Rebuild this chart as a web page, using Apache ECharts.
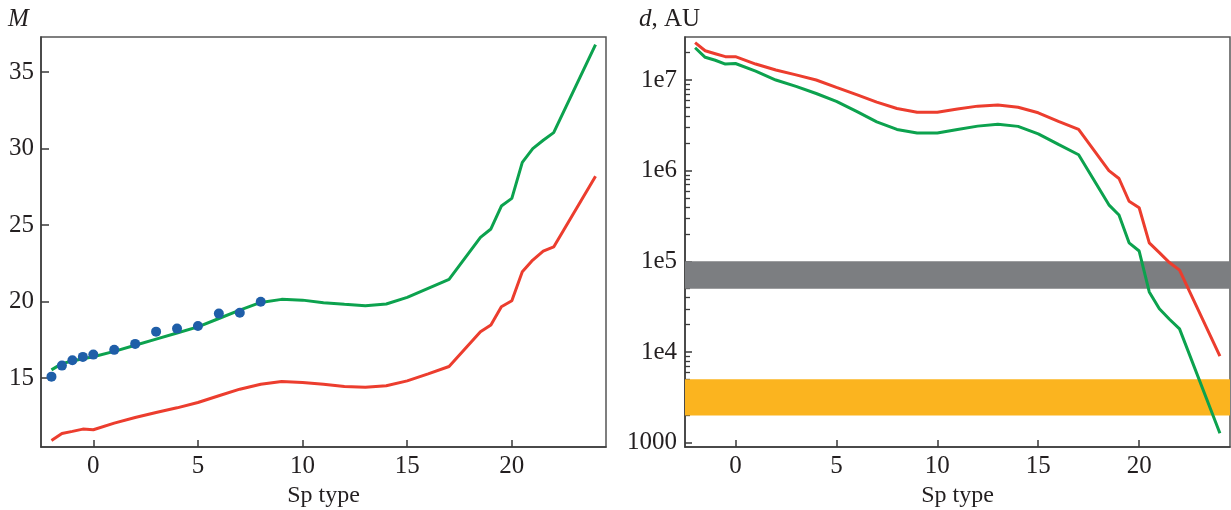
<!DOCTYPE html>
<html>
<head>
<meta charset="utf-8">
<script src="https://cdn.jsdelivr.net/npm/echarts@6/dist/echarts.min.js"></script>
<style>
html, body { margin: 0; padding: 0; background: #fff; }
#main { width: 1231px; height: 510px; }
</style>
</head>
<body>
<div id="main"></div>
<script>
// spectral subtype on the x axis (shared by both panels)
const spType = [-2, -1.5, -1, -0.5, 0, 1, 2, 3, 4, 5, 6, 7, 8, 9, 10, 11, 12, 13, 14, 15, 16, 17,
  18.5, 19, 19.5, 20, 20.5, 21, 21.5, 22, 24];

// left panel: M
const mGreen = [15.54, 15.95, 16.12, 16.27, 16.4, 16.75, 17.15, 17.55, 17.95, 18.35, 18.9, 19.45, 19.95,
  20.15, 20.1, 19.93, 19.83, 19.74, 19.85, 20.28, 20.87, 21.46,
  24.2, 24.75, 26.25, 26.75, 29.1, 30.0, 30.55, 31.05, 36.8];
const mRed = [10.93, 11.38, 11.52, 11.67, 11.63, 12.06, 12.43, 12.76, 13.06, 13.41, 13.85, 14.28, 14.6,
  14.78, 14.72, 14.6, 14.45, 14.41, 14.5, 14.82, 15.28, 15.76,
  18.04, 18.48, 19.67, 20.06, 21.95, 22.72, 23.3, 23.58, 28.2];
const dotSp = [-2, -1.5, -1, -0.5, 0, 1, 2, 3, 4, 5, 6, 7, 8];
const dotM = [15.1, 15.82, 16.17, 16.39, 16.54, 16.85, 17.24, 18.04, 18.24, 18.41, 19.22, 19.28, 20.0];

// right panel: d, AU
const dRed = [2.58e7, 2.1e7, 1.95e7, 1.81e7, 1.81e7, 1.5e7, 1.29e7, 1.14e7, 1.0e7, 8.3e6, 6.9e6, 5.7e6, 4.85e6,
  4.4e6, 4.4e6, 4.8e6, 5.15e6, 5.3e6, 5.0e6, 4.35e6, 3.5e6, 2.85e6,
  1.0e6, 8.2e5, 4.6e5, 3.9e5, 1.6e5, 1.25e5, 9.7e4, 8e4, 9.0e3];
const dGreen = [2.27e7, 1.78e7, 1.65e7, 1.5e7, 1.52e7, 1.25e7, 1.0e7, 8.5e6, 7.1e6, 5.8e6, 4.5e6, 3.45e6, 2.85e6,
  2.6e6, 2.6e6, 2.85e6, 3.1e6, 3.25e6, 3.08e6, 2.55e6, 1.95e6, 1.5e6,
  4.2e5, 3.25e5, 1.6e5, 1.3e5, 4.6e4, 3.0e4, 2.3e4, 1.8e4, 1.27e3];
const grayBand = [5e4, 1e5];
const orangeBand = [2e3, 5e3];

// tick labels
const xTicks = [0, 5, 10, 15, 20];
const mTicks = [15, 20, 25, 30, 35];
const dTicks = [1000, 1e4, 1e5, 1e6, 1e7];

const FONT = 'Liberation Serif';
const TXT = '#231f20';
const dMax = 2.98e7, dMin = 897;

let dMinor = [];
dTicks.forEach(p => {
  for (let k = 2; k <= 9; k++) {
    if (p * k <= dMax) dMinor.push(p * k);
  }
});

const zip = (xs, ys) => xs.map((x, i) => [x, ys[i]]);

const labelStyle = { fontFamily: FONT, fontSize: 25, color: TXT };
const axisLn = { show: true, onZero: false, lineStyle: { color: '#3a3a3a', width: 1.5 } };

function xAxisCfg(gi) {
  return {
    type: 'value', gridIndex: gi, min: -2.5, max: 24.5,
    name: 'Sp type', nameLocation: 'middle', nameGap: 29,
    nameTextStyle: { fontFamily: FONT, fontSize: 24, color: TXT },
    axisLine: axisLn,
    axisTick: { inside: true, length: 7, customValues: xTicks, lineStyle: { color: '#3a3a3a', width: 1.5 } },
    axisLabel: Object.assign({ customValues: xTicks, margin: 7 }, labelStyle),
    splitLine: { show: false }
  };
}

const chart = echarts.init(document.getElementById('main'));
chart.setOption({
  animation: false,
  backgroundColor: '#fff',
  grid: [
    { left: 41, top: 37, width: 565, height: 410, outerBoundsMode: 'none', show: true, borderColor: '#555', borderWidth: 1.5 },
    { left: 685, top: 37, width: 545, height: 410, outerBoundsMode: 'none', show: true, borderColor: '#555', borderWidth: 1.5 }
  ],
  xAxis: [xAxisCfg(0), xAxisCfg(1)],
  yAxis: [
    {
      type: 'value', gridIndex: 0, min: 10.5, max: 37.3,
      axisLine: axisLn,
      axisTick: { inside: true, length: 8, customValues: mTicks, lineStyle: { color: '#3a3a3a', width: 1.5 } },
      axisLabel: Object.assign({ customValues: mTicks, margin: 7 }, labelStyle),
      splitLine: { show: false }
    },
    {
      type: 'log', gridIndex: 1, min: dMin, max: dMax,
      axisLine: axisLn,
      axisTick: { inside: true, length: 7, customValues: dTicks, lineStyle: { color: '#3a3a3a', width: 1.5 } },
      axisLabel: Object.assign({
        customValues: dTicks, margin: 8,
        formatter: v => (v < 5000 ? '1000' : '1e' + Math.round(Math.log10(v)))
      }, labelStyle),
      splitLine: { show: false }
    },
    {
      // minor ticks of the log axis (2..9 x each decade)
      type: 'log', gridIndex: 1, min: dMin, max: dMax, position: 'left', offset: 0,
      axisLine: { show: false, onZero: false },
      axisTick: { inside: true, length: 5, customValues: dMinor, lineStyle: { color: '#3a3a3a', width: 1.3 } },
      axisLabel: { show: false },
      splitLine: { show: false }
    }
  ],
  graphic: [
    { type: 'text', left: 8, top: 7, style: { text: 'M', fontFamily: FONT, fontSize: 25, fontStyle: 'italic', fill: TXT } },
    {
      type: 'text', left: 639, top: 7,
      style: {
        text: '{i|d}, AU', fontFamily: FONT, fontSize: 25, fill: TXT,
        rich: { i: { fontFamily: FONT, fontSize: 25, fontStyle: 'italic', fill: TXT } }
      }
    }
  ],
  series: [
    {
      type: 'line', xAxisIndex: 0, yAxisIndex: 0, data: zip(spType, mRed),
      showSymbol: false, lineStyle: { color: '#ec3d2e', width: 3 }, z: 3
    },
    {
      type: 'line', xAxisIndex: 0, yAxisIndex: 0, data: zip(spType, mGreen),
      showSymbol: false, lineStyle: { color: '#0ca24e', width: 3 }, z: 3
    },
    {
      type: 'scatter', xAxisIndex: 0, yAxisIndex: 0, data: zip(dotSp, dotM),
      symbol: 'circle', symbolSize: 10, itemStyle: { color: '#1f5ea8', opacity: 1 }, z: 4
    },
    {
      type: 'line', xAxisIndex: 1, yAxisIndex: 1, data: [], z: 1,
      markArea: {
        silent: true,
        data: [
          [{ yAxis: grayBand[0], itemStyle: { color: '#7c7e81' } }, { yAxis: grayBand[1] }],
          [{ yAxis: orangeBand[0], itemStyle: { color: '#fbb41f' } }, { yAxis: orangeBand[1] }]
        ]
      }
    },
    {
      type: 'line', xAxisIndex: 1, yAxisIndex: 1, data: zip(spType, dRed),
      showSymbol: false, lineStyle: { color: '#ec3d2e', width: 3 }, z: 3
    },
    {
      type: 'line', xAxisIndex: 1, yAxisIndex: 1, data: zip(spType, dGreen),
      showSymbol: false, lineStyle: { color: '#0ca24e', width: 3 }, z: 3
    }
  ]
});
</script>
</body>
</html>
